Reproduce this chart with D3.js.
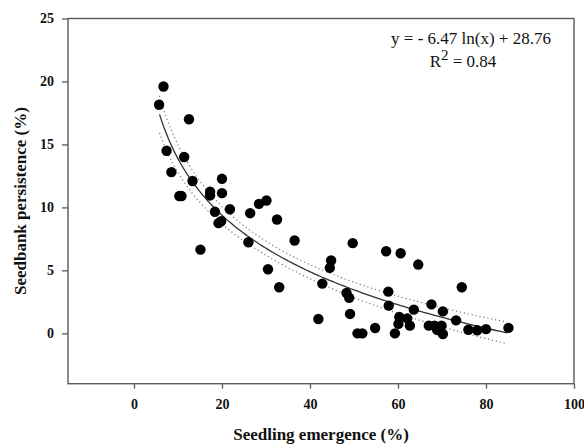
<!DOCTYPE html>
<html>
<head>
<meta charset="utf-8">
<script src="https://cdn.jsdelivr.net/npm/d3@7/dist/d3.min.js"></script>
<style>
  html, body { margin: 0; padding: 0; background: #fff; }
  svg { display: block; }
</style>
</head>
<body>
<svg id="chart" width="584" height="444"></svg>
<script>
// ---- data ----
const emergence = [5.7, 6.7, 7.4, 8.5, 10.3, 10.8, 11.4, 12.5, 13.3, 15.1,
  17.3, 17.3, 18.4, 19.2, 19.8, 20.0, 20.0, 21.8, 26.0, 26.4,
  28.4, 30.1, 30.45, 32.5, 33.0, 36.5, 41.9, 42.8, 44.5, 44.8,
  48.3, 48.9, 49.1, 49.7, 50.8, 51.9, 54.8, 57.3, 57.8, 57.9,
  59.3, 60.3, 60.1, 60.6, 62.1, 62.7, 63.6, 64.6, 67.0, 67.6,
  68.3, 68.9, 69.9, 70.2, 70.2, 73.2, 74.5, 76.0, 78.0, 80.0, 85.1];
const persistence = [18.15, 19.6, 14.5, 12.8, 10.9, 10.9, 14.0, 17.0, 12.1, 6.65,
  11.25, 10.95, 9.65, 8.75, 8.9, 12.27, 11.13, 9.85, 7.23, 9.54,
  10.28, 10.55, 5.09, 9.04, 3.66, 7.37, 1.14, 3.95, 5.2, 5.78,
  3.2, 2.82, 1.54, 7.16, 0.0, 0.0, 0.42, 6.52, 3.31, 2.2,
  0.0, 1.3, 0.75, 6.36, 1.19, 0.61, 1.88, 5.46, 0.61, 2.3,
  0.61, 0.27, 0.61, -0.05, 1.74, 1.03, 3.66, 0.28, 0.24, 0.33, 0.43];
const fitCoef = { a: -6.47, b: 28.76 };   // y = a ln(x) + b
const fitRange = [5.8, 85];
const rSquared = "0.84";
const xTicks = [0, 20, 40, 60, 80, 100];
const yTicks = [0, 5, 10, 15, 20, 25];
const xDomain = [-15, 100];
const yDomain = [-4, 25];

// ---- layout ----
const svg = d3.select("#chart");
const L = 68, R = 574, T = 18.5, B = 383.7;
const x = d3.scaleLinear().domain(xDomain).range([L, R]);
const y = d3.scaleLinear().domain(yDomain).range([B, T]);
const serif = "'Liberation Serif', 'Times New Roman', serif";
const axisColor = "#5a5a5a";

// frame
svg.append("rect").attr("x", L).attr("y", T).attr("width", R - L).attr("height", B - T)
  .attr("fill", "none").attr("stroke", axisColor).attr("stroke-width", 1.4);

// axes
const gx = svg.append("g").attr("transform", `translate(0,${B})`)
  .call(d3.axisBottom(x).tickValues(xTicks).tickSize(5).tickPadding(10).tickFormat(d3.format("d")));
const gy = svg.append("g").attr("transform", `translate(${L},0)`)
  .call(d3.axisLeft(y).tickValues(yTicks).tickSize(6).tickPadding(8).tickFormat(d3.format("d")));
[gx, gy].forEach(g => {
  g.select(".domain").remove();
  g.selectAll(".tick line").attr("stroke", axisColor).attr("stroke-width", 1.3);
  g.selectAll(".tick text").attr("font-family", serif).attr("font-weight", "bold")
    .attr("font-size", 14).attr("fill", "#111");
});

// axis titles
svg.append("text").attr("x", (L + R) / 2).attr("y", 440).attr("text-anchor", "middle")
  .attr("font-family", serif).attr("font-weight", "bold").attr("font-size", 17).attr("fill", "#111")
  .text("Seedling emergence (%)");
svg.append("text").attr("transform", `translate(26,${(T + B) / 2}) rotate(-90)`)
  .attr("text-anchor", "middle")
  .attr("font-family", serif).attr("font-weight", "bold").attr("font-size", 17).attr("fill", "#111")
  .text("Seedbank persistence (%)");

// ---- regression line and 95% confidence band ----
const fit = v => fitCoef.a * Math.log(v) + fitCoef.b;
const n = emergence.length;
const lx = emergence.map(Math.log);
const mLx = d3.mean(lx);
const Sxx = d3.sum(lx, v => (v - mLx) ** 2);
const sse = d3.sum(emergence, (v, i) => (persistence[i] - fit(v)) ** 2);
const s = Math.sqrt(sse / (n - 2));
const tCrit = 2.0;
const half = v => tCrit * s * Math.sqrt(1 / n + (Math.log(v) - mLx) ** 2 / Sxx);
const xs = d3.range(fitRange[0], fitRange[1] + 0.001, 0.5);
const line = d3.line().x(d => x(d[0])).y(d => y(d[1]));

svg.append("path").attr("d", line(xs.map(v => [v, fit(v) + half(v)])))
  .attr("fill", "none").attr("stroke", "#777").attr("stroke-width", 1.2).attr("stroke-dasharray", "1.2,2.8");
svg.append("path").attr("d", line(xs.map(v => [v, fit(v) - half(v)])))
  .attr("fill", "none").attr("stroke", "#777").attr("stroke-width", 1.2).attr("stroke-dasharray", "1.2,2.8");
svg.append("path").attr("d", line(xs.map(v => [v, fit(v)])))
  .attr("fill", "none").attr("stroke", "#333").attr("stroke-width", 1.3);

// ---- points ----
svg.append("g").selectAll("circle").data(emergence).join("circle")
  .attr("cx", d => x(d)).attr("cy", (d, i) => y(persistence[i])).attr("r", 5.2).attr("fill", "#000");

// ---- equation ----
svg.append("text").attr("x", 471).attr("y", 43.5).attr("text-anchor", "middle")
  .attr("font-family", serif).attr("font-size", 17).attr("fill", "#111")
  .text(`y = - ${Math.abs(fitCoef.a).toFixed(2)} ln(x) + ${fitCoef.b.toFixed(2)}`);
const r2 = svg.append("text").attr("x", 463).attr("y", 67).attr("text-anchor", "middle")
  .attr("font-family", serif).attr("font-size", 17).attr("fill", "#111");
r2.append("tspan").text("R");
r2.append("tspan").attr("dy", -7).attr("font-size", 15).text("2");
r2.append("tspan").attr("dy", 7).text(" = " + rSquared);
</script>
</body>
</html>
